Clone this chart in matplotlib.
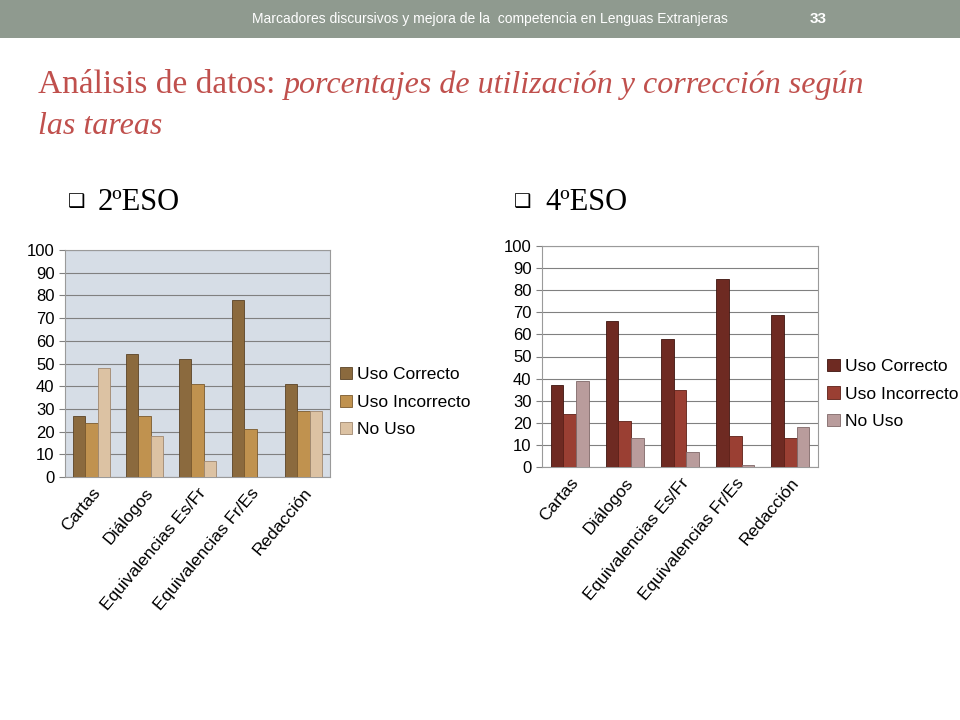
import matplotlib
matplotlib.use("Agg")
import matplotlib.pyplot as plt
import numpy as np
from matplotlib.patches import Rectangle

categories = ["Cartas", "Diálogos", "Equivalencias Es/Fr", "Equivalencias Fr/Es", "Redacción"]
series_names = ["Uso Correcto", "Uso Incorrecto", "No Uso"]
eso2_correcto = [27, 54, 52, 78, 41]
eso2_incorrecto = [24, 27, 41, 21, 29]
eso2_nouso = [48, 18, 7, 0, 29]
eso4_correcto = [37, 66, 58, 85, 69]
eso4_incorrecto = [24, 21, 35, 14, 13]
eso4_nouso = [39, 13, 7, 1, 18]

W, H = 960, 720
fig = plt.figure(figsize=(9.6, 7.2), dpi=100)
fig.patch.set_facecolor("white")

fig.patches.append(Rectangle((0, 1 - 38 / H), 1, 38 / H, transform=fig.transFigure,
                             facecolor="#8f9a8f", edgecolor="none", zorder=0))
fig.text(490 / W, 1 - 19 / H, "Marcadores discursivos y mejora de la  competencia en Lenguas Extranjeras",
         ha="center", va="center", fontsize=10, color="white", family="Liberation Sans")
fig.text(818 / W, 1 - 19 / H, "33", ha="center", va="center", fontsize=11, color="white",
         weight="bold", family="Liberation Sans")
tc = "#c0504d"
fig.text(38 / W, 1 - 85 / H, "Análisis de datos:", ha="left", va="center", fontsize=24,
         color=tc, family="Liberation Serif")
fig.text(284 / W, 1 - 85 / H, "porcentajes de utilización y corrección según", ha="left",
         va="center", fontsize=23, color=tc, family="Liberation Serif", style="italic")
fig.text(38 / W, 1 - 127 / H, "las tareas", ha="left", va="center", fontsize=23,
         color=tc, family="Liberation Serif", style="italic")
fig.text(68 / W, 1 - 202 / H, "❑", ha="left", va="center", fontsize=14, color="black", family="DejaVu Sans")
fig.text(98 / W, 1 - 202 / H, "2ºESO", ha="left", va="center", fontsize=22, family="Liberation Serif")
fig.text(514 / W, 1 - 202 / H, "❑", ha="left", va="center", fontsize=14, color="black", family="DejaVu Sans")
fig.text(545 / W, 1 - 202 / H, "4ºESO", ha="left", va="center", fontsize=22, family="Liberation Serif")


def make(rect, data, colors, bg, edge):
    x0, y0, x1, y1 = rect
    ax = fig.add_axes([x0 / W, 1 - y1 / H, (x1 - x0) / W, (y1 - y0) / H])
    ax.set_facecolor(bg)
    x = np.arange(len(categories))
    w = 0.23
    for i, (vals, c, name) in enumerate(zip(data, colors, series_names)):
        ax.bar(x + (i - 1) * w, vals, w, color=c, edgecolor=edge[i], linewidth=0.6,
               label=name, zorder=3)
    ax.set_xlim(-0.5, len(categories) - 0.5)
    ax.set_ylim(0, 100)
    ax.set_yticks(range(0, 101, 10))
    ax.yaxis.grid(True, color="#808080", linewidth=0.8, zorder=0)
    ax.set_axisbelow(True)
    ax.set_xticks(x)
    ax.set_xticklabels(categories, rotation=50, ha="right", rotation_mode="anchor",
                       fontsize=12.5, family="Liberation Sans")
    ax.tick_params(axis="y", labelsize=12, length=4, colors="#808080", labelcolor="black")
    ax.tick_params(axis="x", length=0, pad=6)
    for lab in ax.get_yticklabels():
        lab.set_family("Liberation Sans")
    for s in ax.spines.values():
        s.set_color("#9a9a9a")
    ax.legend(loc="center left", bbox_to_anchor=(0.99, 0.33), frameon=False,
              prop={"family": "Liberation Sans", "size": 12.5}, handlelength=0.7,
              handleheight=0.7, handletextpad=0.3, labelspacing=0.7, borderaxespad=0.3)
    return ax


make((65, 250, 330, 477), [eso2_correcto, eso2_incorrecto, eso2_nouso],
     ["#8b6a3e", "#c0924f", "#dcc2a3"], "#d6dde6", ["#5a4326", "#7a5a2e", "#a08870"])
make((542, 246, 818, 467), [eso4_correcto, eso4_incorrecto, eso4_nouso],
     ["#6e2a22", "#9a3f33", "#b99c9c"], "white", ["#3e1510", "#5e2018", "#806868"])

fig.savefig("out.png", dpi=100, facecolor="white")
